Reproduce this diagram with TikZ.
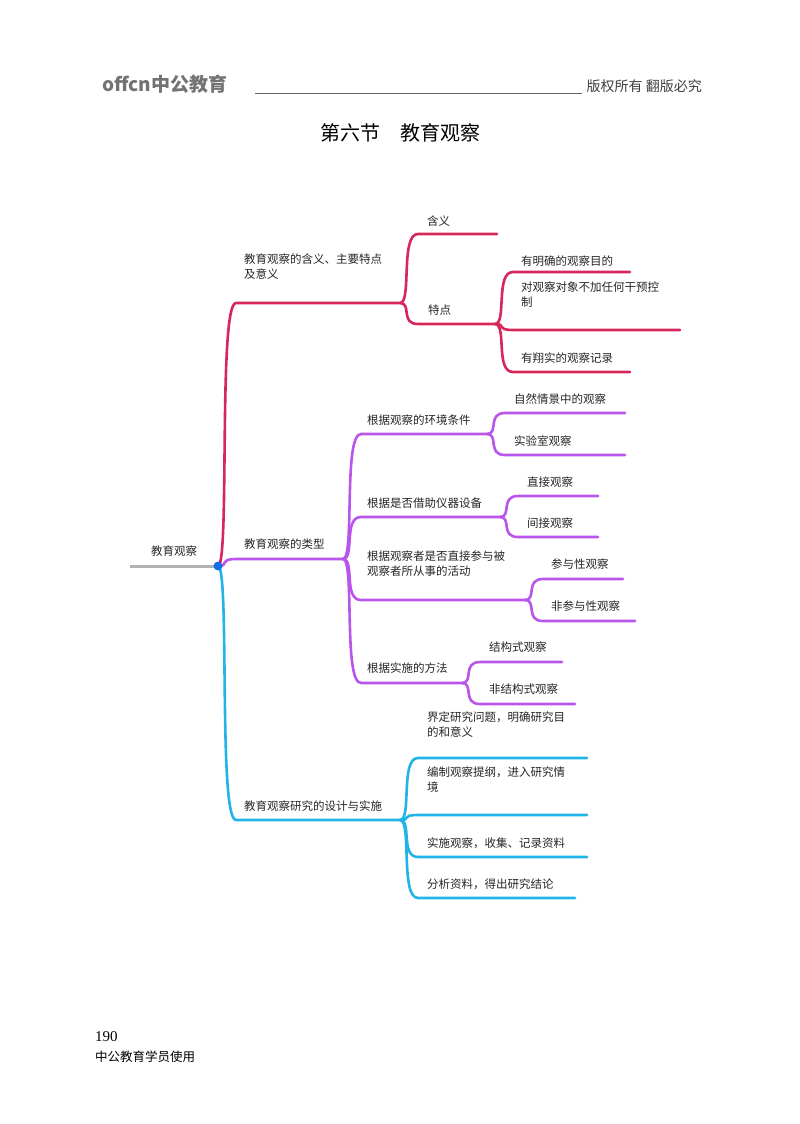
\documentclass[tikz,border=0pt]{standalone}
\usepackage{fontspec}
\setmainfont{Noto Sans CJK SC}
\newfontfamily\lgfont{Liberation Serif}
\begin{document}
\begin{tikzpicture}[x=1pt,y=-1pt,
  lbl/.style={font=\fontsize{11.5}{14.5}\selectfont,text=black!85,inner sep=0,align=left,anchor=base west},
  crim/.style={draw={rgb,255:red,214;green,38;blue,90},line width=2.6pt},
  purp/.style={draw={rgb,255:red,185;green,85;blue,235},line width=2.6pt},
  cyan/.style={draw={rgb,255:red,34;green,180;blue,232},line width=2.6pt}]
\useasboundingbox[fill=white] (0,0) rectangle (800,1124);
\newcommand\br[6]{\draw[#1,line cap=round] (#2,#3) .. controls (#2+12,#3) and (#2,#4) .. (#2+18,#4) -- (#5,#4); \coordinate (#6) at (#5,#4);}
% header
\node[anchor=base west,inner sep=0,text=black!55,font=\fontsize{19}{19}\selectfont\bfseries] (logo) at (102,92) {offcn中公教育};
\draw[black!60,line width=0.9pt] (255,93) -- (582,93);
\node[anchor=base east,inner sep=0,text=black!75,font=\fontsize{14}{14}\selectfont] (copy) at (702,91) {版权所有\ 翻版必究};
\node[inner sep=0,font=\fontsize{20}{20}\selectfont] (title) at (400,133) {第六节\quad 教育观察};
% root
\draw[black!30,line width=3pt] (130,566) -- (218,566);
\node[lbl] (root) at (151,555) {教育观察};
% branch 1
\br{crim}{218}{566}{303}{400}{b1}
\node[lbl] at (244,278) {教育观察的含义、主要特点\\及意义};
\br{crim}{400}{303}{234}{497}{b11}
\node[lbl] at (427,225) {含义};
\br{crim}{400}{303}{324}{495}{b12}
\node[lbl] at (428,314) {特点};
\br{crim}{495}{324}{272}{630}{b121}
\node[lbl] at (521,265) {有明确的观察目的};
\br{crim}{495}{324}{330}{680}{b122}
\node[lbl] at (521,306) {对观察对象不加任何干预控\\制};
\br{crim}{495}{324}{372}{630}{b123}
\node[lbl] at (521,362) {有翔实的观察记录};
% branch 2
\br{purp}{218}{566}{559}{343}{b2}
\node[lbl] at (244,548) {教育观察的类型};
\br{purp}{343}{559}{434}{487}{b21}
\node[lbl] at (367,424) {根据观察的环境条件};
\br{purp}{487}{434}{413}{625}{b211}
\node[lbl] at (514,403) {自然情景中的观察};
\br{purp}{487}{434}{455}{625}{b212}
\node[lbl] at (514,445) {实验室观察};
\br{purp}{343}{559}{517}{500}{b22}
\node[lbl] at (367,507) {根据是否借助仪器设备};
\br{purp}{500}{517}{496}{598}{b221}
\node[lbl] at (527,486) {直接观察};
\br{purp}{500}{517}{537}{598}{b222}
\node[lbl] at (527,527) {间接观察};
\br{purp}{343}{559}{600}{525}{b23}
\node[lbl] at (367,575) {根据观察者是否直接参与被\\观察者所从事的活动};
\br{purp}{525}{600}{579}{623}{b231}
\node[lbl] at (551,568) {参与性观察};
\br{purp}{525}{600}{621}{635}{b232}
\node[lbl] at (551,610) {非参与性观察};
\br{purp}{343}{559}{683}{462}{b24}
\node[lbl] at (367,672) {根据实施的方法};
\br{purp}{462}{683}{662}{562}{b241}
\node[lbl] at (489,651) {结构式观察};
\br{purp}{462}{683}{704}{575}{b242}
\node[lbl] at (489,693) {非结构式观察};
% branch 3
\br{cyan}{218}{566}{820}{400}{b3}
\node[lbl] at (244,810) {教育观察研究的设计与实施};
\br{cyan}{400}{820}{758}{587}{b31}
\node[lbl] at (427,736) {界定研究问题，明确研究目\\的和意义};
\br{cyan}{400}{820}{815}{587}{b32}
\node[lbl] at (427,791) {编制观察提纲，进入研究情\\境};
\br{cyan}{400}{820}{857}{587}{b33}
\node[lbl] at (427,847) {实施观察，收集、记录资料};
\br{cyan}{400}{820}{898}{575}{b34}
\node[lbl] at (427,888) {分析资料，得出研究结论};
\fill[fill={rgb,255:red,20;green,110;blue,230}] (218,566) circle (4.5);
% footer
\node[anchor=base west,inner sep=0,font=\lgfont\fontsize{15}{15}\selectfont] (pg) at (95,1041) {190};
\node[anchor=base west,inner sep=0,font=\fontsize{12.5}{12.5}\selectfont] (ft) at (95,1061) {中公教育学员使用};
\end{tikzpicture}
\end{document}
